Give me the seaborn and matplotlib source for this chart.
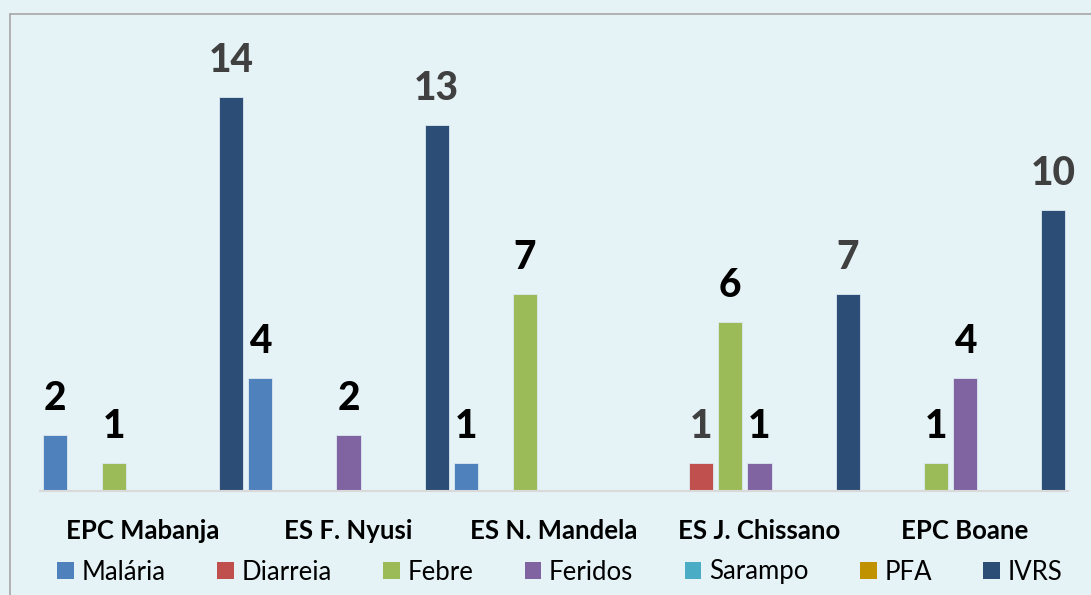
import matplotlib
matplotlib.use("Agg")
import matplotlib.pyplot as plt
from matplotlib.patches import Patch
from matplotlib.lines import Line2D
import seaborn as sns
import pandas as pd

# ---- data ----
categories = ["EPC Mabanja", "ES F. Nyusi", "ES N. Mandela", "ES J. Chissano", "EPC Boane"]
series = ["Malária", "Diarreia", "Febre", "Feridos", "Sarampo", "PFA", "IVRS"]
malaria = [2, 4, 1, 0, 0]
diarreia = [0, 0, 0, 1, 0]
febre = [1, 0, 7, 6, 1]
feridos = [0, 2, 0, 1, 4]
sarampo = [0, 0, 0, 0, 0]
pfa = [0, 0, 0, 0, 0]
ivrs = [14, 13, 0, 7, 10]
values = [malaria, diarreia, febre, feridos, sarampo, pfa, ivrs]

colors = ["#4F81BD", "#C0504D", "#9BBB59", "#8064A2", "#4BACC6", "#C09100", "#2C4D75"]
label_colors = ["#000000", "#404040", "#000000", "#000000", "#000000", "#000000", "#404040"]

rows = []
for s, vals in zip(series, values):
    for c, v in zip(categories, vals):
        rows.append({"Escola": c, "Doença": s, "Casos": v})
df = pd.DataFrame(rows)

sns.set_style("white")
plt.rcParams["font.family"] = ["Lato", "DejaVu Sans"]

BG = "#E5F2F6"
W, H = 1091, 595
fig = plt.figure(figsize=(W / 100, H / 100), dpi=100, facecolor=BG)
ax = fig.add_axes([40.25 / W, (H - 491) / H, (1067.75 - 40.25) / W, 15 * 28.14 / H])
ax.set_facecolor(BG)

sns.barplot(data=df, x="Escola", y="Casos", hue="Doença", order=categories,
            hue_order=series, palette=colors, width=1.0, gap=0.18,
            errorbar=None, ax=ax, legend=False, edgecolor="#DCEAF0", linewidth=0.6,
            saturation=1)

ax.set_xlim(-0.5, 4.5)
ax.set_ylim(0, 15)

for cont, vals, lc in zip(ax.containers, values, label_colors):
    for bar, v in zip(cont, vals):
        if v > 0:
            ax.annotate(str(v), xy=(bar.get_x() + bar.get_width() / 2, bar.get_height()),
                        xytext=(0, 18), textcoords="offset points", ha="center",
                        va="baseline", fontsize=28, fontweight="black", color=lc,
                        annotation_clip=False)

for sp in ["top", "left", "right"]:
    ax.spines[sp].set_visible(False)
ax.spines["bottom"].set_color("#D9D9D9")
ax.spines["bottom"].set_linewidth(1.5)
ax.set_yticks([])
ax.set_xlabel("")
ax.set_ylabel("")
ax.tick_params(axis="x", length=0, pad=20)
for t in ax.get_xticklabels():
    t.set_fontsize(18.5)
    t.set_fontweight("bold")
    t.set_color("#000000")

handles = [Patch(facecolor=c, edgecolor="none", label=s) for c, s in zip(colors, series)]
fig.legend(handles=handles, loc="center", bbox_to_anchor=(0.513, 23 / H), ncol=7,
           frameon=False, fontsize=18.5, handlelength=0.65, handleheight=0.65,
           handletextpad=0.3, columnspacing=2.0, labelcolor="#000000")

# outer frame (left and top edges visible)
fx, fy = 10 / W, 1 - 14 / H
fig.add_artist(Line2D([fx, fx], [0, fy], transform=fig.transFigure, color="#A6A6A6", lw=1.2))
fig.add_artist(Line2D([fx, 1], [fy, fy], transform=fig.transFigure, color="#A6A6A6", lw=1.2))

fig.savefig("out.png", dpi=100, facecolor=BG)
